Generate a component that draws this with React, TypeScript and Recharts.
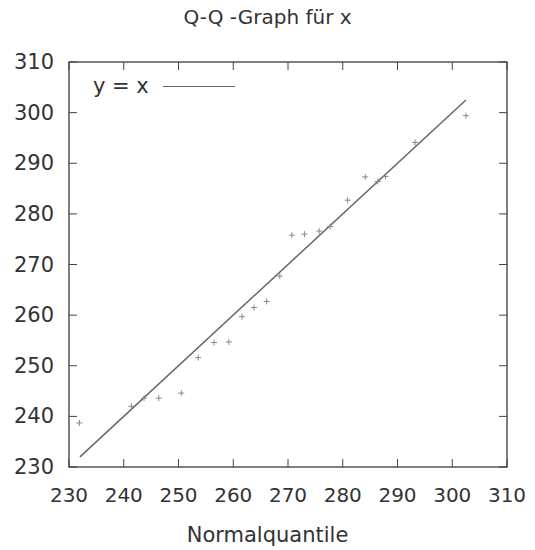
import React from 'react';
import { ScatterChart, Scatter, XAxis, YAxis, ReferenceArea } from 'recharts';

// Stichprobenwerte gegen Normalquantile
const quantiles = [231.9, 241.4, 243.7, 246.4, 250.5, 253.6, 256.5, 259.2, 261.6, 263.8, 266.1, 268.5, 270.7, 273.0, 275.7, 277.7, 280.9, 284.1, 286.4, 287.8, 293.2, 302.5];
const samples = [238.7, 242.0, 243.6, 243.6, 244.6, 251.6, 254.6, 254.7, 259.7, 261.5, 262.7, 267.7, 275.8, 276.0, 276.6, 277.5, 282.7, 287.3, 286.4, 287.4, 294.1, 299.4];
const refLine = [232, 302.5];
const ticks = [230, 240, 250, 260, 270, 280, 290, 300, 310];

const points = quantiles.map((q, i) => ({ x: q, y: samples[i] }));
const linePts = refLine.map(v => ({ x: v, y: v }));

const W = 535;
const H = 550;
const M = { top: 62, right: 28, left: 0, bottom: 0 };
const YW = 69;
const XH = 83;
const PW = W - M.left - M.right - YW;
const PH = H - M.top - M.bottom - XH;
const FONT = '"DejaVu Sans", Verdana, sans-serif';

const XTick = (props: any) => {
  const { x, y, payload } = props;
  return (
    <g>
      <line x1={x} y1={y} x2={x} y2={y - 8} stroke="#444" />
      <line x1={x} y1={y - PH} x2={x} y2={y - PH + 8} stroke="#444" />
      <text x={x} y={y + 35} textAnchor="middle" fontSize={20} fill="#333" fontFamily={FONT}>{payload.value}</text>
    </g>
  );
};

const YTick = (props: any) => {
  const { x, y, payload } = props;
  return (
    <g>
      <line x1={x} y1={y} x2={x + 8} y2={y} stroke="#444" />
      <line x1={x + PW} y1={y} x2={x + PW - 8} y2={y} stroke="#444" />
      <text x={x - 15} y={y + 7} textAnchor="end" fontSize={21} fill="#333" fontFamily={FONT}>{payload.value}</text>
    </g>
  );
};

const Plus = (props: any) => {
  const { cx, cy } = props;
  return (
    <g stroke="#888" strokeWidth={1}>
      <line x1={cx - 3} y1={cy} x2={cx + 3} y2={cy} />
      <line x1={cx} y1={cy - 3} x2={cx} y2={cy + 3} />
    </g>
  );
};

export default function App() {
  return (
    <div style={{ position: 'absolute', left: 0, top: 0, width: W, height: H, background: '#fff' }}>
      <div style={{ position: 'absolute', top: 5, width: W, textAlign: 'center', fontFamily: FONT, fontSize: 20, color: '#333' }}>
        Q-Q -Graph für x
      </div>
      <ScatterChart width={W} height={H} margin={M}>
        <XAxis
          type="number"
          dataKey="x"
          domain={[230, 310]}
          ticks={ticks}
          height={XH}
          tickSize={0}
          tickMargin={0}
          axisLine={false}
          tickLine={false}
          tick={<XTick />}
          allowDataOverflow
          interval={0}
        />
        <YAxis
          type="number"
          dataKey="y"
          domain={[230, 310]}
          ticks={ticks}
          width={YW}
          tickSize={0}
          tickMargin={0}
          axisLine={false}
          tickLine={false}
          tick={<YTick />}
          allowDataOverflow
          interval={0}
        />
        <ReferenceArea x1={230} x2={310} y1={230} y2={310} fill="none" stroke="#555" strokeWidth={1.5} />
        <Scatter data={linePts} line={{ stroke: '#666', strokeWidth: 1.5 }} shape={() => null} isAnimationActive={false} legendType="none" />
        <Scatter data={points} shape={<Plus />} isAnimationActive={false} legendType="none" />
      </ScatterChart>
      {/* Legende oben links */}
      <div style={{ position: 'absolute', left: 93, top: 74, display: 'flex', alignItems: 'center', fontFamily: FONT, fontSize: 21, color: '#333' }}>
        <span>y = x</span>
        <span style={{ display: 'inline-block', width: 72, borderTop: '1.5px solid #666', marginLeft: 14 }} />
      </div>
      <div style={{ position: 'absolute', top: 523, width: W, textAlign: 'center', fontFamily: FONT, fontSize: 21, color: '#333' }}>
        Normalquantile
      </div>
    </div>
  );
}
